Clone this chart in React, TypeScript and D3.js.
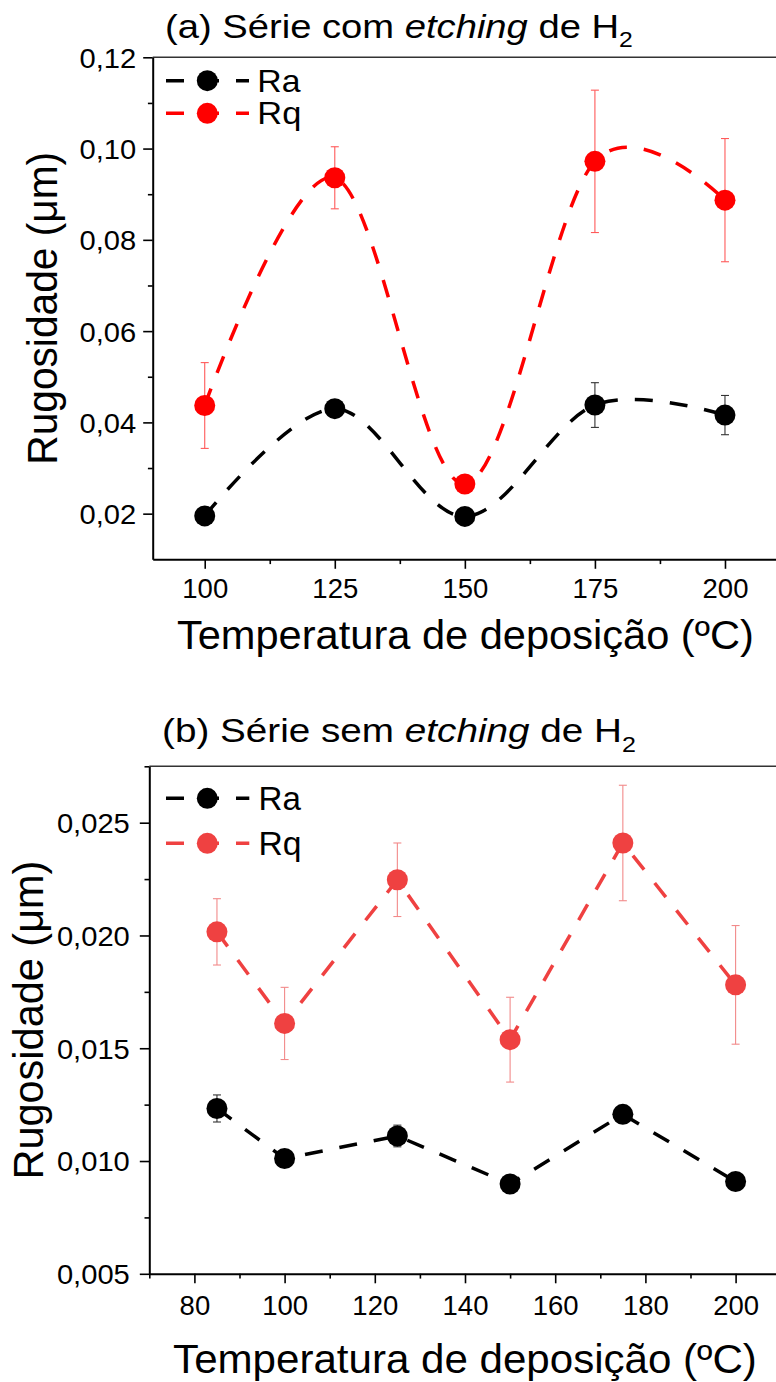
import React, { useEffect, useRef } from 'react';
import * as d3 from 'd3';

const FONT = '"Liberation Sans", Arial, Helvetica, sans-serif';

// ---------- Panel (a): série com etching de H2 ----------
const tempsA = [100, 125, 150, 175, 200];
const raA = [0.0195, 0.0430, 0.0194, 0.0438, 0.0416];
const raErrA = [0.0007, 0.0007, 0.0007, 0.0049, 0.0043];
const rqA = [0.0437, 0.0936, 0.0265, 0.0972, 0.0887];
const rqErrA = [0.0094, 0.0068, 0.0010, 0.0156, 0.0135];
const xTicksA = [100, 125, 150, 175, 200];
const xMinorA = [112.5, 137.5, 162.5, 187.5];
const yTicksA = [0.02, 0.04, 0.06, 0.08, 0.10, 0.12];
const yMinorA = [0.03, 0.05, 0.07, 0.09, 0.11];

// ---------- Panel (b): série sem etching de H2 ----------
const tempsB = [85, 100, 125, 150, 175, 200];
const raB = [0.01233, 0.01011, 0.01111, 0.00898, 0.01207, 0.00909];
const raErrB = [0.0006, 0.0002, 0.00048, 0.0002, 0.0002, 0.0002];
const rqB = [0.02016, 0.0161, 0.02247, 0.01538, 0.0241, 0.01781];
const rqErrB = [0.00147, 0.0016, 0.00163, 0.00188, 0.00256, 0.00263];
const xTicksB = [80, 100, 120, 140, 160, 180, 200];
const xMinorB = [70, 90, 110, 130, 150, 170, 190];
const yTicksB = [0.005, 0.010, 0.015, 0.020, 0.025];
const yMinorB = [0.0075, 0.0125, 0.0175, 0.0225, 0.0275];

const seriesNames = ['Ra', 'Rq'];
const xLabel = 'Temperatura de deposição (ºC)';
const yLabel = 'Rugosidade (μm)';

function commaFmt(digits: number) {
  const f = d3.format(`.${digits}f`);
  return (v: any) => f(v).replace('.', ',');
}

function stretchText(node: SVGTextElement, target?: number, s0 = 1) {
  const w = node.getBBox().width;
  const s = target ? target / w : s0;
  return s;
}

function drawPanel(svg: any, cfg: any) {
  const x = d3.scaleLinear().domain(cfg.xDomain).range([cfg.left, cfg.right]);
  const y = d3.scaleLinear().domain(cfg.yDomain).range([cfg.bottom, cfg.top]);
  const g = svg.append('g');

  // top frame
  g.append('line')
    .attr('x1', cfg.left).attr('x2', cfg.right)
    .attr('y1', cfg.top).attr('y2', cfg.top)
    .attr('stroke', '#333').attr('stroke-width', 1.5);

  // y axis minor
  g.append('g').attr('transform', `translate(${cfg.left},0)`)
    .call(d3.axisLeft(y).tickValues(cfg.yMinor).tickSize(4.8).tickSizeOuter(0).tickFormat(() => ''))
    .call((a: any) => { a.select('.domain').remove(); a.selectAll('line').attr('stroke', '#000').attr('stroke-width', 1.6); });
  // y axis major
  const ya = g.append('g').attr('transform', `translate(${cfg.left},0)`)
    .call(d3.axisLeft(y).tickValues(cfg.yTicks).tickSize(9.5).tickSizeOuter(0).tickPadding(cfg.yPad).tickFormat(cfg.yFmt));
  ya.select('.domain').attr('stroke', '#000').attr('stroke-width', 2);
  ya.selectAll('line').attr('stroke', '#000').attr('stroke-width', 1.6);
  ya.selectAll('text')
    .attr('font-family', FONT).attr('font-size', 27.5).attr('fill', '#000').attr('dy', '0.36em')
    .each(function (this: any) {
      const x0 = +d3.select(this).attr('x');
      d3.select(this).attr('transform', `translate(${x0},0) scale(1.06,1) translate(${-x0},0)`);
    });

  // x axis minor
  g.append('g').attr('transform', `translate(0,${cfg.bottom})`)
    .call(d3.axisBottom(x).tickValues(cfg.xMinor).tickSize(4.8).tickSizeOuter(0).tickFormat(() => ''))
    .call((a: any) => { a.select('.domain').remove(); a.selectAll('line').attr('stroke', '#000').attr('stroke-width', 1.6); });
  const xa = g.append('g').attr('transform', `translate(0,${cfg.bottom})`)
    .call(d3.axisBottom(x).tickValues(cfg.xTicks).tickSize(9.5).tickSizeOuter(0).tickPadding(cfg.xPad).tickFormat(d3.format('d')));
  xa.select('.domain').attr('stroke', '#000').attr('stroke-width', 2);
  xa.selectAll('line').attr('stroke', '#000').attr('stroke-width', 1.6);
  xa.selectAll('text').attr('font-family', FONT).attr('font-size', 27.5).attr('fill', '#000');

  // series
  cfg.series.forEach((s: any) => {
    const pts = cfg.temps.map((t: number, i: number) => [t, s.values[i], s.errs[i]]);
    const line = d3.line<any>().x(d => x(d[0])).y(d => y(d[1])).curve(cfg.curve);
    g.append('path').attr('d', line(pts)).attr('fill', 'none')
      .attr('stroke', s.color).attr('stroke-width', 3.5).attr('stroke-dasharray', '18 17');
    const eg = g.append('g').attr('stroke', s.errColor).attr('stroke-width', 1.1);
    pts.forEach((p: any) => {
      const cx = x(p[0]);
      const y1 = y(p[1] + p[2]);
      const y2 = y(p[1] - p[2]);
      eg.append('line').attr('x1', cx).attr('x2', cx).attr('y1', y1).attr('y2', y2);
      eg.append('line').attr('x1', cx - 4).attr('x2', cx + 4).attr('y1', y1).attr('y2', y1);
      eg.append('line').attr('x1', cx - 4).attr('x2', cx + 4).attr('y1', y2).attr('y2', y2);
    });
    g.append('g').selectAll('circle').data(pts).join('circle')
      .attr('cx', (d: any) => x(d[0])).attr('cy', (d: any) => y(d[1]))
      .attr('r', 10.5).attr('fill', s.color);
  });

  // legend
  cfg.series.forEach((s: any, i: number) => {
    const ly = cfg.legend.rows[i];
    g.append('line').attr('x1', cfg.legend.x0).attr('x2', cfg.legend.x1).attr('y1', ly).attr('y2', ly)
      .attr('stroke', s.color).attr('stroke-width', 3.5).attr('stroke-dasharray', '18 17');
    g.append('circle').attr('cx', cfg.legend.mx).attr('cy', ly).attr('r', 10.5).attr('fill', s.color);
    const tg = g.append('g').attr('transform', `translate(${cfg.legend.tx},${ly + cfg.legend.fs * 0.36})`);
    const t = tg.append('text').attr('font-family', FONT).attr('font-size', cfg.legend.fs).attr('fill', '#000').text(s.name);
    const sc = stretchText(t.node(), cfg.legend.tw);
    t.attr('transform', `scale(${sc},1)`);
  });

  // title
  const tg = g.append('g').attr('transform', `translate(${cfg.title.x},${cfg.title.y})`);
  const tt = tg.append('text').attr('font-family', FONT).attr('font-size', 34).attr('fill', '#000');
  tt.append('tspan').text(cfg.title.prefix);
  tt.append('tspan').attr('font-style', 'italic').text('etching');
  tt.append('tspan').text(' de H');
  tt.append('tspan').attr('font-size', 22).attr('dy', 9.5).text('2');
  tt.attr('transform', `scale(${stretchText(tt.node(), cfg.title.w)},1)`);

  // x label
  const xg = g.append('g').attr('transform', `translate(${(cfg.left + cfg.right) / 2 + cfg.xl.dx},${cfg.xl.y})`);
  const xt = xg.append('text').attr('font-family', FONT).attr('font-size', 40).attr('text-anchor', 'middle').attr('fill', '#000').text(xLabel);
  xt.attr('transform', `scale(${stretchText(xt.node(), cfg.xl.w)},1)`);

  // y label
  const yg = g.append('g').attr('transform', `translate(${cfg.yl.x},${(cfg.top + cfg.bottom) / 2}) rotate(-90)`);
  const yt = yg.append('text').attr('font-family', FONT).attr('font-size', 42).attr('text-anchor', 'middle').attr('fill', '#000').text(yLabel);
  yt.attr('transform', `scale(${stretchText(yt.node(), cfg.yl.w)},1)`);
}

export default function App() {
  const ref = useRef<SVGSVGElement>(null);
  useEffect(() => {
    const svg = d3.select(ref.current);
    svg.selectAll('*').remove();

    drawPanel(svg, {
      left: 152.7, right: 777, top: 57.3, bottom: 559.3,
      xDomain: [90, 210], yDomain: [0.01, 0.12],
      xTicks: xTicksA, xMinor: xMinorA, yTicks: yTicksA, yMinor: yMinorA,
      yFmt: commaFmt(2), yPad: 7, xPad: 10,
      temps: tempsA, curve: d3.curveCardinal.tension(0),
      series: [
        { name: seriesNames[0], values: raA, errs: raErrA, color: '#000000', errColor: '#333333' },
        { name: seriesNames[1], values: rqA, errs: rqErrA, color: '#FF0000', errColor: '#FF5a5a' },
      ],
      legend: { x0: 166, x1: 249, mx: 207.3, tx: 257.3, rows: [80.7, 113.3], fs: 31, tw: 44 },
      title: { prefix: '(a) Série com ', x: 165, y: 37.5, w: 468 },
      xl: { y: 649, w: 577, dx: 0.5 },
      yl: { x: 57, w: 313 },
    });

    drawPanel(svg, {
      left: 149.3, right: 780.7, top: 766.3, bottom: 1273.8,
      xDomain: [70, 210], yDomain: [0.005, 0.0275],
      xTicks: xTicksB, xMinor: xMinorB, yTicks: yTicksB, yMinor: yMinorB,
      yFmt: commaFmt(3), yPad: 10, xPad: 12.3,
      temps: tempsB, curve: d3.curveLinear,
      series: [
        { name: seriesNames[0], values: raB, errs: raErrB, color: '#000000', errColor: '#333333' },
        { name: seriesNames[1], values: rqB, errs: rqErrB, color: '#EF4141', errColor: '#F28a8a' },
      ],
      legend: { x0: 166, x1: 249.3, mx: 207.3, tx: 258.6, rows: [798.3, 843.3], fs: 33, tw: 43 },
      title: { prefix: '(b) Série sem ', x: 162, y: 742, w: 474 },
      xl: { y: 1372.5, w: 584, dx: 0 },
      yl: { x: 42.7, w: 319 },
    });
  }, []);
  return (
    <svg ref={ref} width={776} height={1382}
      style={{ position: 'absolute', left: 0, top: 0, background: '#fff', display: 'block' }} />
  );
}
